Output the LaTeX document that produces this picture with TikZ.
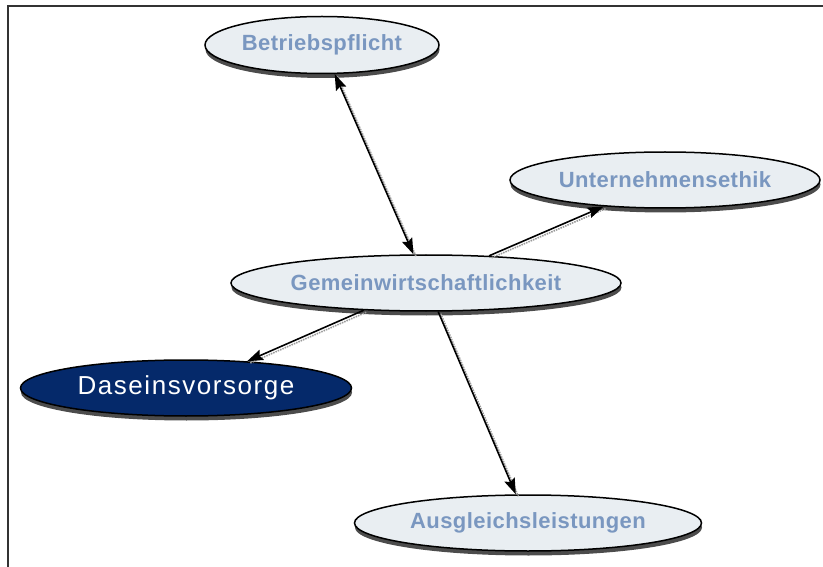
\documentclass[tikz,border=0pt]{standalone}
\usepackage{fontspec}
\setmainfont{Liberation Sans}
\usetikzlibrary{shapes.geometric,arrows.meta,shadows}
\definecolor{nodefill}{HTML}{E9EEF2}
\definecolor{labelblue}{HTML}{7A97C0}
\definecolor{navy}{HTML}{05296A}
\definecolor{framegray}{HTML}{333333}
\begin{document}
\begin{tikzpicture}[x=1pt,y=-1pt,
  topic/.style={ellipse, draw=black, line width=1.5pt, fill=nodefill, inner sep=0pt,
    text=labelblue, font=\fontsize{22}{24}\selectfont\bfseries\addfontfeature{LetterSpace=2}},
  topicshade/.style={general shadow={shadow xshift=0.5pt, shadow yshift=-4.5pt, fill=black!70}},
  focus/.style={topic, fill=navy, text=white,
    font=\fontsize{26}{28}\selectfont\addfontfeature{LetterSpace=6}},
  link/.style={line width=1.6pt, draw=black, -{Stealth[length=16pt,width=11pt,inset=2.5pt]}},
  biling/.style={link, {Stealth[length=16pt,width=11pt,inset=2.5pt]}-{Stealth[length=16pt,width=11pt,inset=2.5pt]}},
  linkshadow/.style={line width=1.6pt, draw=black!40, dash pattern=on 1.5pt off 1pt}
]
\useasboundingbox (0,0) rectangle (823,567);
\draw[framegray, line width=2pt] (7.5,567) -- (7.5,6.5) -- (823,6.5);

\node[topic, topicshade, minimum width=234pt, minimum height=57pt] (bp) at (322,45) {Betriebspflicht};
\node[topic, topicshade, minimum width=310pt, minimum height=56pt] (ue) at (665,180) {Unternehmensethik};
\node[topic, topicshade, minimum width=390pt, minimum height=56pt] (gw) at (426,283) {Gemeinwirtschaftlichkeit};
\node[focus, topicshade, minimum width=331pt, minimum height=56pt] (dv) at (186,388) {Daseinsvorsorge};
\node[topic, topicshade, minimum width=347pt, minimum height=56pt] (al) at (528,523) {Ausgleichsleistungen};

\begin{scope}[transform canvas={shift={(2.5pt,-2pt)}}]
  \draw[linkshadow] (bp) -- (gw);
  \draw[linkshadow] (gw) -- (ue);
  \draw[linkshadow] (gw) -- (dv);
  \draw[linkshadow] (gw) -- (al);
\end{scope}

\draw[biling] (bp) -- (gw);
\draw[link] (gw) -- (ue);
\draw[link] (gw) -- (dv);
\draw[link] (gw) -- (al);
\end{tikzpicture}
\end{document}
